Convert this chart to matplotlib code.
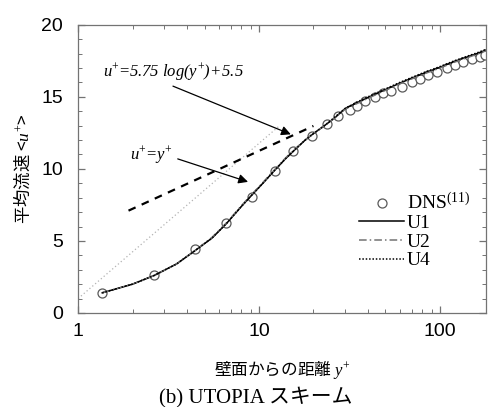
import numpy as np
import matplotlib
matplotlib.use('Agg')
import matplotlib.pyplot as plt
from matplotlib.ticker import FixedLocator, NullFormatter, MultipleLocator

plt.rcParams['mathtext.fontset'] = 'custom'
plt.rcParams['mathtext.rm'] = 'Liberation Serif'
plt.rcParams['mathtext.it'] = 'Liberation Serif:italic'
plt.rcParams['mathtext.sf'] = 'Liberation Serif:italic'

# DNS (参考文献11)
dns_y = [1.36, 2.63, 4.43, 6.57, 9.1, 12.2, 15.4, 19.6, 23.7, 27.3, 31.7, 35.0,
         38.5, 43.7, 48.4, 54.0, 61.7, 70.0, 77.6, 85.9, 96.0, 109.0, 121.0,
         134.0, 150.0, 166.0, 178.0]
dns_u = [1.39, 2.64, 4.44, 6.25, 8.06, 9.86, 11.25, 12.3, 13.1, 13.7, 14.1, 14.4,
         14.7, 15.0, 15.3, 15.4, 15.7, 16.0, 16.25, 16.5, 16.7, 17.0, 17.2,
         17.4, 17.6, 17.8, 17.9]

# 計算結果 (UTOPIA)
yp = [1.36, 2.0, 2.63, 3.5, 4.4, 5.5, 6.6, 8.0, 9.0, 10.5, 12.0, 14.0, 16.0, 18.0,
      20.0, 23.0, 26.0, 30.0, 35.0, 40.0, 50.0, 60.0, 70.0, 80.0, 100.0, 120.0,
      140.0, 160.0, 180.0]
u1 = [1.4, 2.0, 2.6, 3.4, 4.3, 5.2, 6.2, 7.4, 8.1, 9.0, 9.8, 10.7, 11.4, 12.0,
      12.45, 13.0, 13.5, 14.2, 14.6, 14.95, 15.5, 15.95, 16.3, 16.6, 17.05, 17.45,
      17.75, 18.0, 18.25]
u2 = [1.4, 2.0, 2.6, 3.4, 4.3, 5.25, 6.25, 7.45, 8.15, 9.05, 9.85, 10.75, 11.45,
      12.0, 12.45, 13.0, 13.5, 14.15, 14.55, 14.9, 15.45, 15.9, 16.25, 16.55,
      17.0, 17.4, 17.7, 17.95, 18.2]
u4 = [1.4, 2.0, 2.6, 3.4, 4.3, 5.2, 6.2, 7.4, 8.1, 9.0, 9.8, 10.7, 11.4, 12.0,
      12.45, 13.0, 13.55, 14.2, 14.65, 15.0, 15.55, 16.0, 16.35, 16.65, 17.1,
      17.5, 17.8, 18.05, 18.3]

# 壁法則・対数則
lin_y = [1.0, 13.0]
log_y = [1.9, 20.0]

fig = plt.figure(figsize=(4.88, 4.07), dpi=100)
ax = fig.add_axes([0.16, 0.231, 0.836, 0.708])

ax.plot(lin_y, lin_y, color='0.7', lw=0.9, ls=(0, (1, 2)))
lx = np.array(log_y)
ax.plot(lx, 5.75 * np.log10(lx) + 5.5, color='k', lw=1.6, ls=(0, (3.5, 3)))

ax.plot(dns_y, dns_u, ls='none', marker='o', ms=6.5, mfc='white', mec='0.35',
        mew=0.9, label=r'DNS$^{(11)}$', zorder=2)
ax.plot(yp, u1, color='k', lw=1.1, label='U1', zorder=3)
ax.plot(yp, u2, color='0.45', lw=1.1, ls=(0, (5, 2, 1, 2)), label='U2', zorder=3)
ax.plot(yp, u4, color='k', lw=1.1, ls=(0, (1, 1.2)), label='U4', zorder=3)

ax.set_xscale('log')
ax.set_xlim(1, 180)
ax.set_ylim(0, 20)
ax.xaxis.set_major_locator(FixedLocator([1, 10, 100]))
ax.xaxis.set_major_formatter(plt.FixedFormatter(['1', '10', '100']))
ax.xaxis.set_minor_locator(FixedLocator([2, 3, 4, 5, 6, 7, 8, 9,
                                         20, 30, 40, 50, 60, 70, 80, 90]))
ax.xaxis.set_minor_formatter(NullFormatter())
ax.yaxis.set_major_locator(MultipleLocator(5))
ax.yaxis.set_minor_locator(MultipleLocator(1))

for s in ax.spines.values():
    s.set_color('0.45')
    s.set_linewidth(0.9)
ax.tick_params(which='both', direction='in', top=True, right=True, color='0.45')
ax.tick_params(which='major', length=5, width=0.9, labelsize=14)
ax.tick_params(which='minor', length=3, width=0.7)
ax.tick_params(axis='x', which='major', pad=7)
ax.tick_params(axis='y', which='major', pad=11)
for lab in ax.get_xticklabels() + ax.get_yticklabels():
    lab.set_family('Liberation Sans')

ax.set_xlabel(r'壁面からの距離 $\mathit{y}^{+}$', family=['Noto Sans CJK JP'],
              fontsize=12, labelpad=14)
ax.set_ylabel(r'平均流速 <$\mathit{u}^{+}$>', family=['Noto Sans CJK JP'],
              fontsize=12.5, labelpad=6)
fig.text(0.525, 0.0246, '(b) UTOPIA スキーム', ha='center', va='center',
         family=['Liberation Serif', 'Noto Sans CJK JP'], fontsize=15)

ax.annotate(r'$u^{+}\!=\!\mathsf{5.75\ log(}y^{+}\mathsf{)\!+\!5.5}$',
            xy=(15.0, 12.4), xytext=(1.37, 16.7), ha='left', va='center',
            fontsize=12, annotation_clip=False,
            arrowprops=dict(arrowstyle='-|>', color='k', lw=0.9,
                            mutation_scale=14, shrinkA=0, shrinkB=0,
                            relpos=(0.45, 0.0)))
ax.annotate(r'$u^{+}\!=\!y^{+}$', xy=(8.7, 9.1), xytext=(1.94, 10.97),
            ha='left', va='center', fontsize=12,
            arrowprops=dict(arrowstyle='-|>', color='k', lw=0.9,
                            mutation_scale=14, shrinkA=2, shrinkB=0,
                            relpos=(1.0, 0.4)))

leg = ax.legend(loc='upper left', bbox_to_anchor=(0.67, 0.445), frameon=False,
                prop={'family': 'Liberation Serif', 'size': 14},
                handlelength=2.3, handletextpad=0.15, labelspacing=0.05,
                borderaxespad=0)

fig.savefig('out.png', dpi=100)
